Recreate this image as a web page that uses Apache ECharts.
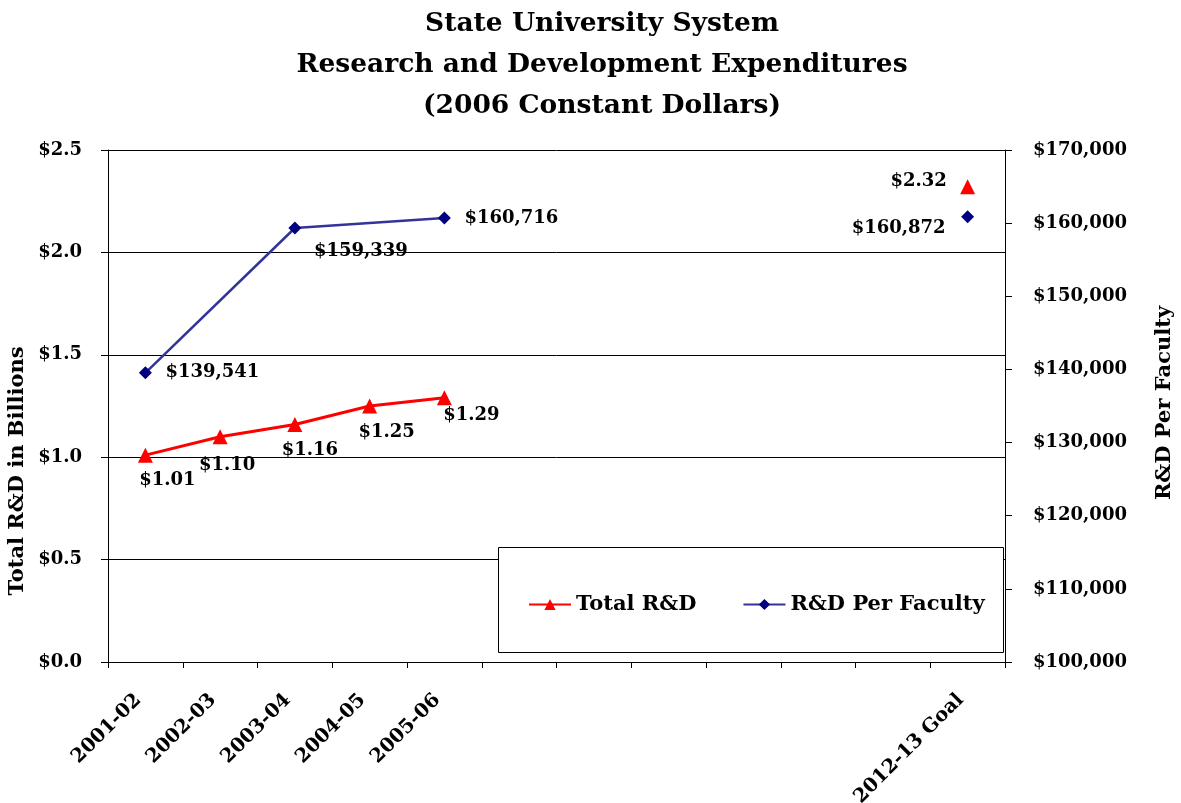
<!DOCTYPE html>
<html>
<head>
<meta charset="utf-8">
<script src="https://cdn.jsdelivr.net/npm/echarts@6/dist/echarts.min.js"></script>
<style>
  html, body { margin: 0; padding: 0; background: #fff; }
  #chart { width: 1181px; height: 803px; }
</style>
</head>
<body>
<div id="chart"></div>
<script>
const categories = ['2001-02', '2002-03', '2003-04', '2004-05', '2005-06', '2006-07', '2007-08', '2008-09', '2009-10', '2010-11', '2011-12', '2012-13 Goal'];
const tickLabels = ['2001-02', '2002-03', '2003-04', '2004-05', '2005-06', '', '', '', '', '', '', '2012-13 Goal'];
const totalRD = [1.01, 1.10, 1.16, 1.25, 1.29, null, null, null, null, null, null, 2.32];
const perFaculty = [139541, null, 159339, null, 160716, null, null, null, null, null, null, null];
const perFacultyGoal = [null, null, null, null, null, null, null, null, null, null, null, 160872];

const FONT = 'DejaVu Serif';

// label offsets from the marker centre (style, not data)
const totalOffsets = [[22, 25], [7, 29], [15, 26], [17, 26], [27, 18], null, null, null, null, null, null, [-49, -6]];
const facultyOffsets = [[67, 0], null, [66, 23], null, [67, 0], null, null, null, null, null, null, [-69, 12]];

const money2 = (v) => '$' + Number(v).toFixed(2);
const moneyK = (v) => '$' + Number(v).toLocaleString('en-US');

const withLabels = (arr, offsets) => arr.map((v, i) =>
  v == null ? null : { value: v, label: { offset: offsets[i] } });

const labelStyle = {
  show: true,
  position: 'inside',
  align: 'center',
  verticalAlign: 'middle',
  fontFamily: FONT,
  fontWeight: 'bold',
  fontSize: 18,
  color: '#000'
};

const chart = echarts.init(document.getElementById('chart'), null, { renderer: 'canvas' });

chart.setOption({
  animation: false,
  backgroundColor: '#fff',
  title: {
    text: 'State University System\nResearch and Development Expenditures\n(2006 Constant Dollars)',
    left: 597,
    textAlign: 'center',
    top: -1,
    textStyle: { fontFamily: FONT, fontWeight: 'bold', fontSize: 26.5, lineHeight: 41, color: '#000' }
  },
  grid: { left: 108, right: 176, top: 150, bottom: 141, containLabel: false, outerBoundsMode: 'none' },
  legend: {
    left: 523,
    top: 589,
    itemWidth: 42,
    itemHeight: 14,
    itemGap: 46,
    data: ['Total R&D', 'R&D Per Faculty'],
    textStyle: { fontFamily: FONT, fontWeight: 'bold', fontSize: 21, color: '#000' },
    z: 5
  },
  graphic: [
    {
      type: 'rect',
      z: 3,
      shape: { x: 498.5, y: 547.5, width: 505, height: 105 },
      style: { fill: '#fff', stroke: '#000', lineWidth: 1 }
    },
    {
      type: 'text',
      x: 18, y: 471,
      rotation: Math.PI / 2,
      style: { text: 'Total R&D in Billions', fontFamily: FONT, fontWeight: 'bold', fontSize: 21, fill: '#000', align: 'center', verticalAlign: 'middle' }
    },
    {
      type: 'text',
      x: 1165, y: 403,
      rotation: Math.PI / 2,
      style: { text: 'R&D Per Faculty', fontFamily: FONT, fontWeight: 'bold', fontSize: 21, fill: '#000', align: 'center', verticalAlign: 'middle' }
    }
  ],
  xAxis: {
    type: 'category',
    data: categories,
    boundaryGap: true,
    axisLine: { lineStyle: { color: '#000', width: 1 } },
    axisTick: { show: true, interval: 0, length: 6, lineStyle: { color: '#000' } },
    axisLabel: {
      interval: 0,
      rotate: 45,
      margin: 28,
      padding: [0, 10, 0, 0],
      fontFamily: FONT,
      fontWeight: 'bold',
      fontSize: 19.5,
      color: '#000',
      formatter: (v, i) => tickLabels[i]
    },
    splitLine: { show: false }
  },
  yAxis: [
    {
      type: 'value',
      min: 0,
      max: 2.5,
      interval: 0.5,
      position: 'left',
      axisLine: { show: true, lineStyle: { color: '#000' } },
      axisTick: { show: true, length: 7, lineStyle: { color: '#000' } },
      axisLabel: { margin: 26, fontFamily: FONT, fontWeight: 'bold', fontSize: 18, color: '#000', formatter: (v) => '$' + v.toFixed(1) },
      splitLine: { show: true, lineStyle: { color: '#000', width: 1 } }
    },
    {
      type: 'value',
      min: 100000,
      max: 170000,
      interval: 10000,
      position: 'right',
      axisLine: { show: true, lineStyle: { color: '#000' } },
      axisTick: { show: true, length: 7, lineStyle: { color: '#000' } },
      axisLabel: { margin: 28, fontFamily: FONT, fontWeight: 'bold', fontSize: 18, color: '#000', formatter: moneyK },
      splitLine: { show: false }
    }
  ],
  series: [
    {
      name: 'Total R&D',
      type: 'line',
      yAxisIndex: 0,
      data: withLabels(totalRD, totalOffsets),
      connectNulls: false,
      symbol: 'triangle',
      symbolSize: 15,
      showAllSymbol: true,
      lineStyle: { color: '#ff0000', width: 3 },
      itemStyle: { color: '#ff0000' },
      label: Object.assign({}, labelStyle, { formatter: (p) => money2(p.value) }),
      z: 4
    },
    {
      name: 'R&D Per Faculty',
      type: 'line',
      yAxisIndex: 1,
      data: withLabels(perFaculty, facultyOffsets),
      connectNulls: true,
      symbol: 'diamond',
      symbolSize: 13,
      showAllSymbol: true,
      lineStyle: { color: '#333399', width: 2.5 },
      itemStyle: { color: '#000080' },
      label: Object.assign({}, labelStyle, { formatter: (p) => moneyK(p.value) }),
      z: 4
    },
    {
      name: 'R&D Per Faculty',
      type: 'line',
      yAxisIndex: 1,
      data: withLabels(perFacultyGoal, facultyOffsets),
      symbol: 'diamond',
      symbolSize: 13,
      showAllSymbol: true,
      lineStyle: { color: '#000080', width: 2.5 },
      itemStyle: { color: '#000080' },
      label: Object.assign({}, labelStyle, { formatter: (p) => moneyK(p.value) }),
      z: 4
    }
  ]
});
</script>
</body>
</html>
